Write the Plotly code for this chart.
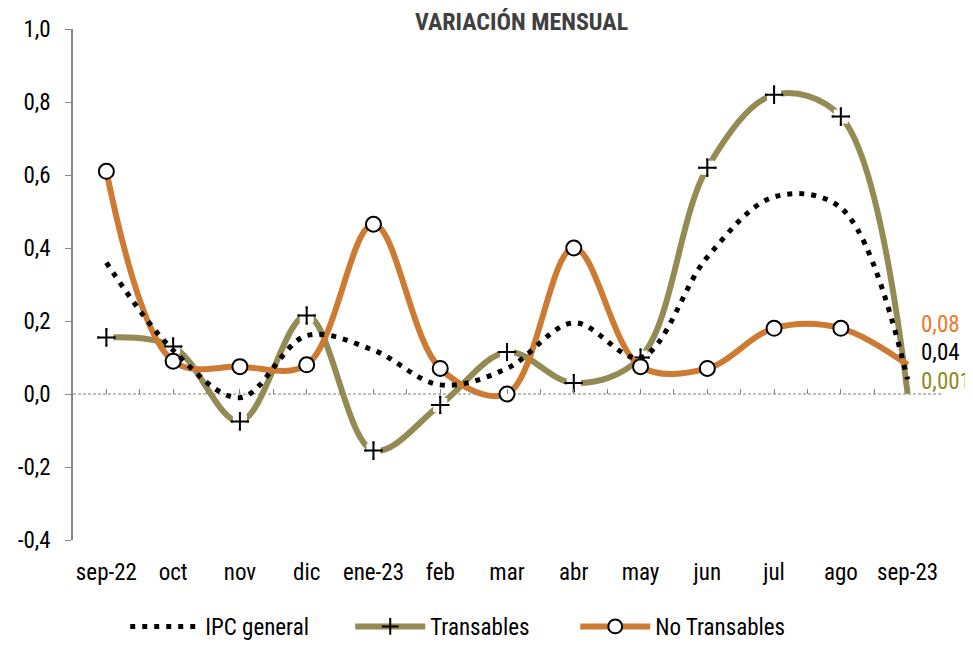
import plotly.graph_objects as go

# Data
months = ["sep-22", "oct", "nov", "dic", "ene-23", "feb", "mar", "abr",
          "may", "jun", "jul", "ago", "sep-23"]
ipc_general = [0.36, 0.12, -0.01, 0.16, 0.12, 0.025, 0.07, 0.195, 0.10, 0.375, 0.54, 0.51, 0.04]
transables = [0.155, 0.13, -0.075, 0.215, -0.155, -0.03, 0.115, 0.03, 0.10, 0.62, 0.82, 0.76, 0.001]
no_transables = [0.61, 0.09, 0.075, 0.08, 0.465, 0.07, 0.0, 0.40, 0.075, 0.07, 0.18, 0.18, 0.08]
end_labels = ["0,08", "0,04", "0,001"]
y_ticks = [-0.4, -0.2, 0.0, 0.2, 0.4, 0.6, 0.8, 1.0]
y_tick_labels = ["-0,4", "-0,2", "0,0", "0,2", "0,4", "0,6", "0,8", "1,0"]

FONT = "Liberation Sans Narrow, Arial Narrow, Roboto Condensed, Arial, sans-serif"
OLIVE = "#948A54"
ORANGE = "#CD7A33"

n = len(months)
# no marker on the last point (as in the original)
cross_size = [13] * (n - 1) + [0]
gap_size = [14] * (n - 1) + [0]
circle_size = [15] * (n - 1) + [0]

fig = go.Figure()

# Transables: line, white gaps under markers, then crosses
fig.add_trace(go.Scatter(
    x=months, y=transables, name="Transables", mode="lines+markers",
    line=dict(color=OLIVE, width=6, shape="spline", smoothing=1),
    marker=dict(symbol="cross-thin", size=cross_size, color="black", opacity=1,
                line=dict(color="black", width=2)),
))
fig.add_trace(go.Scatter(
    x=months, y=transables, mode="markers", showlegend=False, hoverinfo="skip",
    marker=dict(symbol="square", size=gap_size, color="white", opacity=1,
                line=dict(width=0)),
))
fig.add_trace(go.Scatter(
    x=months, y=transables, mode="markers", showlegend=False, hoverinfo="skip",
    marker=dict(symbol="cross-thin", size=cross_size, color="black", opacity=1,
                line=dict(color="black", width=2)),
))

# No Transables
fig.add_trace(go.Scatter(
    x=months, y=no_transables, name="No Transables", mode="lines+markers",
    line=dict(color=ORANGE, width=6, shape="spline", smoothing=1),
    marker=dict(symbol="circle", size=circle_size, color="white", opacity=1,
                line=dict(color="black", width=2)),
))

# IPC general (dotted)
fig.add_trace(go.Scatter(
    x=months, y=ipc_general, name="IPC general", mode="lines",
    line=dict(color="black", width=5, dash="5px,7px", shape="spline", smoothing=1),
))

# zero line (dashed)
fig.add_shape(type="line", xref="paper", x0=0, x1=1, yref="y", y0=0, y1=0,
              line=dict(color="#7f7f7f", width=1, dash="3px,2px"), layer="below")

# end-of-series labels
end_colors = ["#F07828", "black", "#8D8A1E"]
end_pos = [0.19, 0.115, 0.035]
for txt, col, yy in zip(end_labels, end_colors, end_pos):
    fig.add_annotation(x=months[-1], y=yy, xref="x", yref="y", text=txt,
                       showarrow=False, xanchor="left", xshift=11,
                       font=dict(family=FONT, size=23, color=col))

fig.add_annotation(x=0.517, y=1.014, xref="paper", yref="paper",
                   text="<b>VARIACIÓN MENSUAL</b>", showarrow=False,
                   yanchor="middle", font=dict(family=FONT, size=24, color="#404040"))

# page body has an 8px margin, so the figure is a bit smaller and shifted
fig.update_layout(
    width=965, height=640,
    margin=dict(l=65, r=32, t=21, b=108),
    paper_bgcolor="white", plot_bgcolor="white",
    font=dict(family=FONT, size=23, color="black"),
    xaxis=dict(type="category", range=[-0.5, 12.5], showline=False, ticks="",
               showgrid=False, zeroline=False, ticklabelstandoff=16,
               automargin=False, tickfont=dict(size=23)),
    xaxis2=dict(overlaying="x", anchor="free", position=0.4 / 1.4,
                range=[-0.5, 12.5], dtick=0.5, tick0=0, ticks="inside",
                ticklen=5, tickcolor="#7f7f7f", showticklabels=False,
                showline=False, showgrid=False, zeroline=False),
    yaxis=dict(range=[-0.4, 1.0], tickmode="array", tickvals=y_ticks,
               ticktext=y_tick_labels,
               showline=True, linecolor="#868686", linewidth=1.5,
               ticks="outside", ticklen=6, tickcolor="#868686",
               ticklabelstandoff=10, automargin=False,
               showgrid=False, zeroline=False, tickfont=dict(size=23)),
    legend=dict(orientation="h", x=0.449, xanchor="center",
                yref="container", y=-0.016, yanchor="bottom", traceorder="normal",
                font=dict(family=FONT, size=23), itemwidth=70,
                entrywidth=140, entrywidthmode="pixels"),
    showlegend=True,
)

# invisible trace on xaxis2 so the tick overlay is drawn
fig.add_trace(go.Scatter(x=[0], y=[None], xaxis="x2", showlegend=False,
                         hoverinfo="skip", mode="markers"))

# legend order: IPC general, Transables, No Transables
fig.data[4].legendrank = 1
fig.data[0].legendrank = 2
fig.data[3].legendrank = 3

fig.write_html("out.html")
